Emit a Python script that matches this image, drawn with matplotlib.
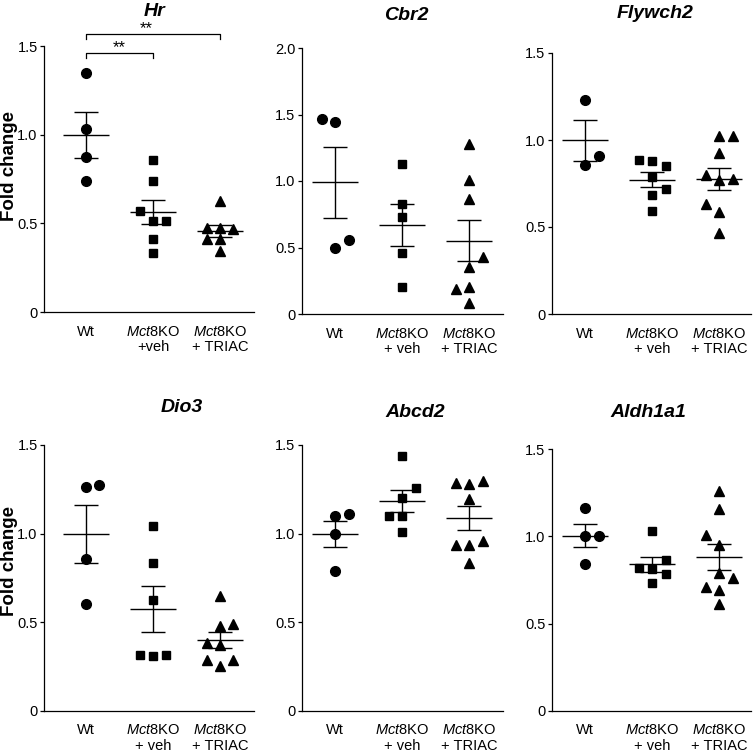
import numpy as np
import matplotlib
matplotlib.use('Agg')
import matplotlib.pyplot as plt

plt.rcParams['font.family'] = ['Liberation Sans', 'DejaVu Sans']
plt.rcParams['mathtext.fontset'] = 'custom'
plt.rcParams['mathtext.rm'] = 'Liberation Sans'
plt.rcParams['mathtext.it'] = 'Liberation Sans:italic'
plt.rcParams['mathtext.bf'] = 'Liberation Sans:bold'

# ---- data (fold change per animal) ----
genes = ['Hr', 'Cbr2', 'Flywch2', 'Dio3', 'Abcd2', 'Aldh1a1']

hr_wt = [1.346, 1.030, 0.872, 0.739]
hr_veh = [0.859, 0.739, 0.513, 0.513, 0.568, 0.414, 0.331]
hr_triac = [0.626, 0.476, 0.466, 0.476, 0.410, 0.410, 0.346]

cbr2_wt = [1.440, 0.497, 0.560, 1.468]
cbr2_veh = [1.127, 0.828, 0.728, 0.457, 0.201]
cbr2_triac = [1.277, 1.009, 0.866, 0.356, 0.432, 0.201, 0.186, 0.085]

flywch2_wt = [1.231, 0.857, 0.909]
flywch2_veh = [0.877, 0.852, 0.886, 0.790, 0.685, 0.717, 0.593]
flywch2_triac = [1.021, 0.928, 0.771, 0.587, 0.468, 1.021, 0.796, 0.777, 0.631]

dio3_wt = [1.265, 1.273, 0.857, 0.603]
dio3_veh = [1.045, 0.836, 0.626, 0.310, 0.316, 0.316]
dio3_triac = [0.648, 0.479, 0.491, 0.372, 0.382, 0.254, 0.288, 0.288]

abcd2_wt = [1.097, 1.109, 0.999, 0.792]
abcd2_veh = [1.440, 1.201, 1.097, 1.011, 1.259, 1.097]
abcd2_triac = [1.282, 1.295, 1.286, 1.195, 0.934, 0.960, 0.934, 0.834]

aldh1a1_wt = [1.162, 1.004, 1.004, 0.844]
aldh1a1_veh = [1.032, 0.811, 0.731, 0.865, 0.817, 0.782]
aldh1a1_triac = [1.260, 1.155, 0.950, 0.788, 0.693, 0.611, 0.760, 1.010, 0.708]

all_data = [
    [hr_wt, hr_veh, hr_triac],
    [cbr2_wt, cbr2_veh, cbr2_triac],
    [flywch2_wt, flywch2_veh, flywch2_triac],
    [dio3_wt, dio3_veh, dio3_triac],
    [abcd2_wt, abcd2_veh, abcd2_triac],
    [aldh1a1_wt, aldh1a1_veh, aldh1a1_triac],
]

mct = r'$\mathit{Mct8}$KO'
labels_hr = ['Wt', mct + '\n+veh', mct + '\n+ TRIAC']
labels_other = ['Wt', mct + '\n+ veh', mct + '\n+ TRIAC']

yticks_15 = [0, 0.5, 1.0, 1.5]
yticks_20 = [0, 0.5, 1.0, 1.5, 2.0]
ytick_labels_15 = ['0', '0.5', '1.0', '1.5']
ytick_labels_20 = ['0', '0.5', '1.0', '1.5', '2.0']

hr_sig = [(1, 2, '**'), (1, 3, '**')]

# ---- layout (pixels) ----
W = H = 753
PX_CAT = 67.0
# left spine x, y of zero, y of top, xlim, title x/y
layout = [
    dict(left=44, y0=312, y1=46, xlim=(0.373, 3.507), tx=155, ty=11),
    dict(left=301.7, y0=314, y1=48, xlim=(0.5, 3.5), tx=406, ty=15),
    dict(left=551.7, y0=314, y1=53, xlim=(0.5, 3.47), tx=655, ty=13),
    dict(left=44, y0=711, y1=445, xlim=(0.373, 3.507), tx=182, ty=408),
    dict(left=301.7, y0=711, y1=445, xlim=(0.5, 3.5), tx=415, ty=413),
    dict(left=551.7, y0=711, y1=449, xlim=(0.5, 3.47), tx=648, ty=413),
]

markers = ['o', 's', '^']
msizes = [7.0, 6.3, 7.6]
SLOT = 0.2
GAP = 11.0


def swarm(vals, ppu):
    placed = []
    slots = []
    side = 1
    for v in vals:
        def free(s):
            return all(abs(v - pv) * ppu >= GAP for ps, pv in placed if ps == s)
        if free(0):
            s = 0
        else:
            s = next(c for c in [side, -side, 2 * side, -2 * side] if free(c))
            side = -side
        placed.append((s, v))
        slots.append(s)
    return slots


fig = plt.figure(figsize=(7.53, 7.53), dpi=100)

for i, gene in enumerate(genes):
    lay = layout[i]
    wpx = (lay['xlim'][1] - lay['xlim'][0]) * PX_CAT
    ax = fig.add_axes([lay['left'] / W, 1 - lay['y0'] / H, wpx / W,
                       (lay['y0'] - lay['y1']) / H])
    if gene == 'Cbr2':
        yt, ytl = yticks_20, ytick_labels_20
    else:
        yt, ytl = yticks_15, ytick_labels_15
    ax.set_xlim(*lay['xlim'])
    ax.set_ylim(0, yt[-1])
    ppu = (lay['y0'] - lay['y1']) / yt[-1]

    for g, vals in enumerate(all_data[i]):
        x = g + 1
        slots = np.array(swarm(vals, ppu))
        ax.plot(x + SLOT * slots, vals, ls='none', marker=markers[g],
                ms=msizes[g], color='black', mec='black', clip_on=False, zorder=3)
        m = np.mean(vals)
        se = np.std(vals, ddof=1) / np.sqrt(len(vals))
        ax.hlines(m, x - 0.34, x + 0.34, color='black', lw=1.0, zorder=4)
        ax.vlines(x, m - se, m + se, color='black', lw=1.0, zorder=4)
        ax.hlines([m - se, m + se], x - 0.175, x + 0.175, color='black', lw=1.0, zorder=4)

    ax.set_yticks(yt)
    ax.set_yticklabels(ytl)
    ax.set_xticks([1, 2, 3])
    ax.set_xticklabels(labels_hr if i == 0 else labels_other, linespacing=1.1)
    ax.tick_params(axis='x', length=0, pad=9, labelsize=10.5)
    ax.tick_params(axis='y', direction='out', length=3, width=0.9, pad=1.5, labelsize=10.5)
    for sp in ['top', 'right']:
        ax.spines[sp].set_visible(False)
    for sp in ['left', 'bottom']:
        ax.spines[sp].set_linewidth(0.9)

    fig.text(lay['tx'] / W, 1 - lay['ty'] / H, gene, ha='center', va='center',
             fontsize=14, fontweight='bold', fontstyle='italic')

    if gene == 'Hr':
        levels = [1.46, 1.57]
        star_y = [1.49, 1.60]
        for (a, b, txt), lv, sy in zip(hr_sig, levels, star_y):
            ax.plot([a, a, b, b], [lv - 0.03, lv, lv, lv - 0.03], color='black',
                    lw=0.9, clip_on=False)
            ax.text((a + b) / 2 - (0.1 if b - a > 1 else 0), sy, txt, ha='center',
                    va='center', fontsize=12)

# y axis titles
for ty in [166, 561]:
    fig.text(10 / W, 1 - ty / H, 'Fold change', rotation=90, ha='center', va='center',
             fontsize=13.5, fontweight='bold')

fig.savefig('out.png', dpi=100)
